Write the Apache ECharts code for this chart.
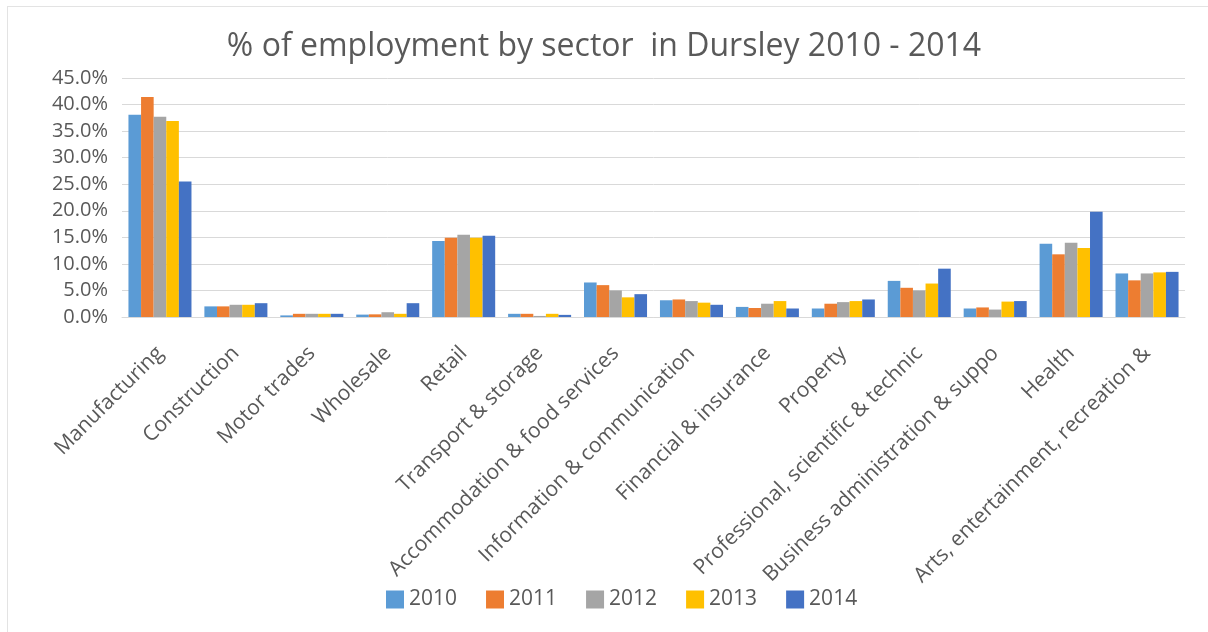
<!DOCTYPE html>
<html>
<head>
<meta charset="utf-8">
<script src="https://cdn.jsdelivr.net/npm/echarts@6/dist/echarts.min.js"></script>
<style>
  html, body { margin: 0; padding: 0; background: #fff; overflow: hidden; }
  #frame { position: absolute; left: 7px; top: 6px; width: 1400px; height: 800px; border: 1px solid #e3e3e3; box-sizing: border-box; }
  #chart { position: absolute; left: 0; top: 0; width: 1208px; height: 632px; }
</style>
</head>
<body>
<div id="frame"></div>
<div id="chart"></div>
<script>
// Sectors along the x axis
const sectors = [
  'Manufacturing', 'Construction', 'Motor trades', 'Wholesale', 'Retail',
  'Transport & storage', 'Accommodation & food services', 'Information & communication',
  'Financial & insurance', 'Property', 'Professional, scientific & technic',
  'Business administration & suppo', 'Health', 'Arts, entertainment, recreation &'
];

// Share of employment (%) per year
const y2010 = [38.1, 2.0, 0.3, 0.45, 14.3, 0.6, 6.5, 3.15, 1.9, 1.6, 6.8, 1.6, 13.8, 8.2];
const y2011 = [41.4, 2.0, 0.6, 0.5, 14.9, 0.6, 6.0, 3.3, 1.7, 2.5, 5.5, 1.8, 11.8, 6.9];
const y2012 = [37.7, 2.3, 0.6, 0.9, 15.5, 0.2, 5.0, 3.0, 2.5, 2.8, 5.0, 1.4, 14.0, 8.2];
const y2013 = [36.9, 2.3, 0.6, 0.6, 14.9, 0.6, 3.7, 2.7, 3.0, 3.0, 6.3, 2.9, 13.0, 8.4];
const y2014 = [25.5, 2.6, 0.6, 2.6, 15.3, 0.4, 4.3, 2.3, 1.6, 3.3, 9.1, 3.0, 19.8, 8.5];

const years = ['2010', '2011', '2012', '2013', '2014'];
const yearData = [y2010, y2011, y2012, y2013, y2014];
const colors = ['#5B9BD5', '#ED7D31', '#A5A5A5', '#FFC000', '#4472C4'];

const textColor = '#595959';
const fontFamily = '"Open Sans", "Liberation Sans", sans-serif';

const chart = echarts.init(document.getElementById('chart'), null, { renderer: 'canvas' });

chart.setOption({
  backgroundColor: 'transparent',
  animation: false,
  color: colors,
  title: {
    text: '% of employment by sector  in Dursley 2010 - 2014',
    left: 'center',
    top: 26,
    textStyle: { color: textColor, fontFamily: fontFamily, fontSize: 32, fontWeight: 'normal' }
  },
  legend: {
    data: years,
    bottom: 17,
    left: 381,
    itemWidth: 18,
    itemHeight: 18,
    itemGap: 29,
    icon: 'rect',
    textStyle: { color: textColor, fontFamily: fontFamily, fontSize: 21 }
  },
  grid: { left: 122, right: 23, top: 78, bottom: 315, containLabel: false },
  xAxis: {
    type: 'category',
    data: sectors,
    axisLine: { show: true, lineStyle: { color: '#d9d9d9' } },
    axisTick: { show: false },
    axisLabel: {
      interval: 0,
      rotate: 45,
      margin: 33,
      color: textColor,
      fontFamily: fontFamily,
      fontSize: 21
    }
  },
  yAxis: {
    type: 'value',
    min: 0,
    max: 45,
    interval: 5,
    axisLine: { show: false },
    axisTick: { show: false },
    splitLine: { lineStyle: { color: '#d9d9d9', width: 1 } },
    axisLabel: {
      margin: 14,
      color: textColor,
      fontFamily: fontFamily,
      fontSize: 20,
      formatter: v => v.toFixed(1) + '%'
    }
  },
  series: years.map((yr, i) => ({
    name: yr,
    type: 'bar',
    data: yearData[i],
    barGap: '0%',
    barCategoryGap: '17%',
    itemStyle: { color: colors[i] }
  }))
});
</script>
</body>
</html>
